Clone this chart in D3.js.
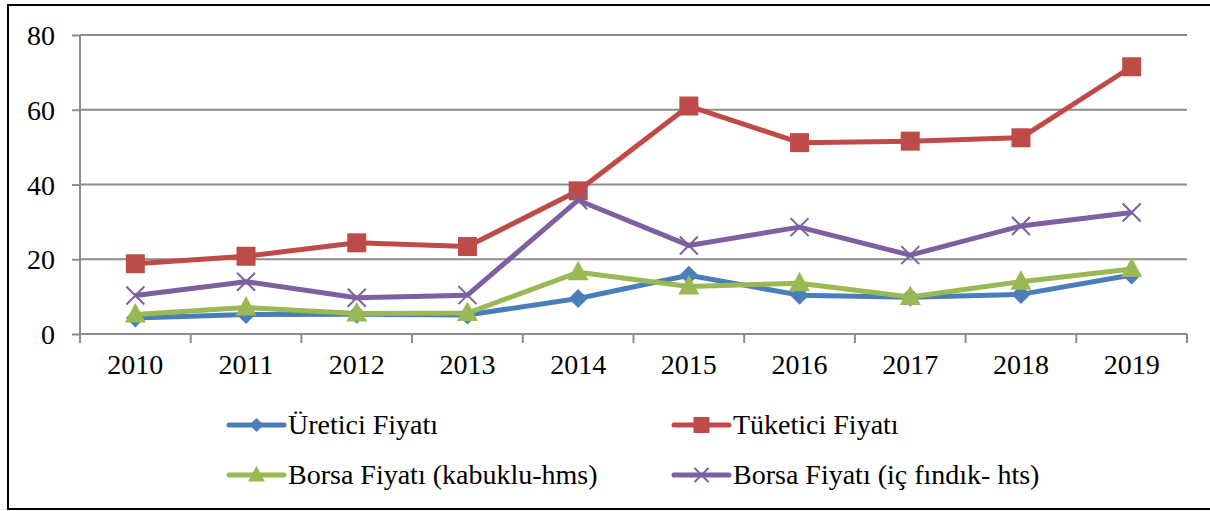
<!DOCTYPE html>
<html>
<head>
<meta charset="utf-8">
<script src="https://cdn.jsdelivr.net/npm/d3@7"></script>
<style>
  body { margin: 0; background: #fff; }
  svg text { font-family: "Liberation Serif", "Times New Roman", serif; fill: #000; }
</style>
</head>
<body>
<div id="chart"></div>
<script>
var years = ["2010", "2011", "2012", "2013", "2014", "2015", "2016", "2017", "2018", "2019"];
var uretici = [4.3, 5.2, 5.3, 5.1, 9.5, 15.7, 10.4, 9.8, 10.6, 15.8];
var tuketici = [18.8, 20.8, 24.4, 23.4, 38.3, 61.0, 51.2, 51.6, 52.5, 71.5];
var borsaKabuklu = [5.2, 7.1, 5.5, 5.6, 16.5, 12.7, 13.6, 9.9, 14.0, 17.4];
var borsaIc = [10.3, 14.0, 9.7, 10.4, 35.8, 23.7, 28.6, 21.1, 28.9, 32.5];
var yTicks = [0, 20, 40, 60, 80];

var series = [
  {name: "Üretici Fiyatı", values: uretici, color: "#4A7EBB", marker: "diamond"},
  {name: "Tüketici Fiyatı", values: tuketici, color: "#BE4B48", marker: "square"},
  {name: "Borsa Fiyatı (kabuklu-hms)", values: borsaKabuklu, color: "#98B954", marker: "triangle"},
  {name: "Borsa Fiyatı (iç fındık- hts)", values: borsaIc, color: "#7D60A0", marker: "cross"}
];

var svg = d3.select("#chart").append("svg").attr("width", 1210).attr("height", 511);

// outer frame
svg.append("rect")
    .attr("x", 8).attr("y", 5)
    .attr("width", 1210).attr("height", 504)
    .attr("fill", "none").attr("stroke", "#000").attr("stroke-width", 2);

var plotLeft = 80, plotRight = 1187, plotTop = 35, plotBottom = 334;

var x = d3.scaleBand().domain(years).range([plotLeft, plotRight]);
var y = d3.scaleLinear().domain([0, 80]).range([plotBottom, plotTop]);

// gridlines
svg.append("g")
  .selectAll("line")
  .data(yTicks)
  .enter().append("line")
    .attr("x1", plotLeft).attr("x2", plotRight)
    .attr("y1", function(d) { return y(d); })
    .attr("y2", function(d) { return y(d); })
    .attr("stroke", "#8C8C8C").attr("stroke-width", 2);

// y axis
var yAxis = svg.append("g")
    .attr("transform", "translate(" + plotLeft + ",0)")
    .call(d3.axisLeft(y).tickValues(yTicks).tickSize(8).tickPadding(17));
yAxis.select(".domain").attr("stroke", "#8C8C8C").attr("stroke-width", 2).attr("d", "M0," + plotBottom + "V" + plotTop);
yAxis.selectAll(".tick line").attr("stroke", "#8C8C8C").attr("stroke-width", 2);
yAxis.selectAll("text").style("font-size", "28px").attr("dy", "0.34em");

// x axis: ticks on category boundaries
var xAxis = svg.append("g")
    .attr("transform", "translate(0," + plotBottom + ")")
    .call(d3.axisBottom(x).tickSize(0).tickPadding(20));
xAxis.select(".domain").remove();
xAxis.selectAll("text").style("font-size", "28px").attr("dy", "0.71em");
var bounds = years.map(function(d) { return x(d); }).concat([plotRight]);
svg.append("g")
  .selectAll("line")
  .data(bounds)
  .enter().append("line")
    .attr("x1", function(d) { return d; }).attr("x2", function(d) { return d; })
    .attr("y1", plotBottom).attr("y2", plotBottom + 9)
    .attr("stroke", "#8C8C8C").attr("stroke-width", 2);

function symbolPath(type, s) {
  if (type === "diamond") return "M0," + (-s) + "L" + s + ",0L0," + s + "L" + (-s) + ",0Z";
  if (type === "square") return "M" + (-s) + "," + (-s) + "H" + s + "V" + s + "H" + (-s) + "Z";
  if (type === "triangle") return "M0," + (-s * 1.15) + "L" + (s * 1.05) + "," + (s * 0.8) + "L" + (-s * 1.05) + "," + (s * 0.8) + "Z";
  return "M" + (-s) + "," + (-s) + "L" + s + "," + s + "M" + (-s) + "," + s + "L" + s + "," + (-s);
}
var markerSize = {diamond: 9.5, square: 9.5, triangle: 10, cross: 9};

var line = d3.line()
    .x(function(d, i) { return x(years[i]) + x.bandwidth() / 2; })
    .y(function(d) { return y(d); });

series.forEach(function(s) {
  var g = svg.append("g");
  g.append("path")
      .datum(s.values)
      .attr("d", line)
      .attr("fill", "none")
      .attr("stroke", s.color)
      .attr("stroke-width", 5)
      .attr("stroke-linejoin", "round");
  g.selectAll(".pt")
    .data(s.values)
    .enter().append("path")
      .attr("class", "pt")
      .attr("transform", function(d, i) { return "translate(" + (x(years[i]) + x.bandwidth() / 2) + "," + y(d) + ")"; })
      .attr("d", symbolPath(s.marker, markerSize[s.marker]))
      .attr("fill", s.marker === "cross" ? "none" : s.color)
      .attr("stroke", s.color)
      .attr("stroke-width", s.marker === "cross" ? 2 : 0);
});

// legend
var legendPos = [[228, 425], [673, 425], [228, 475], [673, 475]];
var legendSize = {diamond: 7, square: 8, triangle: 8, cross: 7};
series.forEach(function(s, i) {
  var lg = svg.append("g").attr("transform", "translate(" + legendPos[i][0] + "," + legendPos[i][1] + ")");
  lg.append("line")
      .attr("x1", 1).attr("x2", 56).attr("y1", 0).attr("y2", 0)
      .attr("stroke", s.color).attr("stroke-width", 5).attr("stroke-linecap", "round");
  lg.append("path")
      .attr("transform", "translate(28.5,0)")
      .attr("d", symbolPath(s.marker, legendSize[s.marker]))
      .attr("fill", s.marker === "cross" ? "none" : s.color)
      .attr("stroke", s.color)
      .attr("stroke-width", s.marker === "cross" ? 2 : 0);
  lg.append("text")
      .attr("x", 60).attr("y", 0).attr("dy", "0.33em")
      .style("font-size", "28px")
      .text(s.name);
});
</script>
</body>
</html>
